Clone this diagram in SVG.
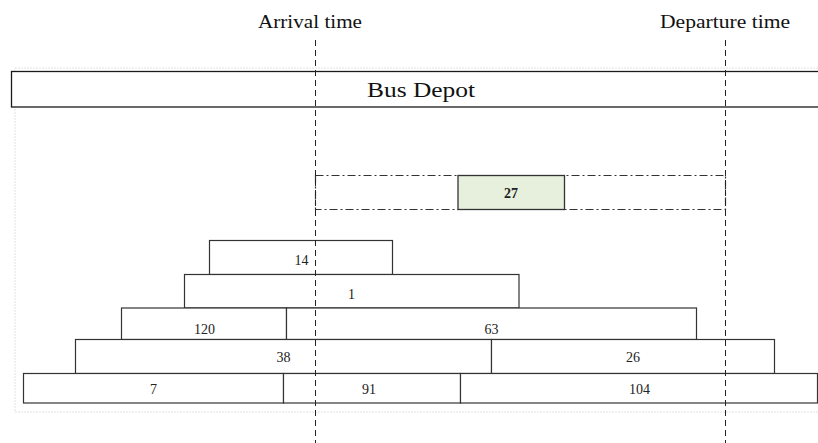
<svg xmlns="http://www.w3.org/2000/svg" width="818" height="443" viewBox="0 0 818 443">
  <style>
    .frame { fill: none; stroke: #e2e2e2; stroke-width: 1; stroke-dasharray: 2 1; }
    .depot { fill: #ffffff; stroke: #1a1a1a; stroke-width: 1.3; }
    .trip { fill: #ffffff; stroke: #333333; stroke-width: 1.2; }
    .hot { fill: #e6f0dc; stroke: #333333; stroke-width: 1.3; }
    .guide { fill: none; stroke: #222222; stroke-width: 1; stroke-dasharray: 6 4; }
    .window { fill: none; stroke: #333333; stroke-width: 1.2; stroke-dasharray: 8 3 2 3; }
    .title { font-family: "Liberation Serif", "DejaVu Serif", serif; font-size: 19px; fill: #111111; }
    .big { font-family: "Liberation Serif", "DejaVu Serif", serif; font-size: 22px; fill: #111111; }
    .num { font-family: "Liberation Serif", "DejaVu Serif", serif; font-size: 14px; fill: #222222; text-anchor: middle; }
    .bold { font-weight: bold; }
  </style>

  <!-- light page frame -->
  <rect class="frame" x="15" y="68" width="810" height="344"/>

  <g id="bus-depot">
    <rect class="depot" x="11.5" y="71.5" width="812" height="35.5"/>
    <text class="big" x="367" y="97" textLength="108" lengthAdjust="spacingAndGlyphs">Bus Depot</text>
  </g>

  <g id="trip-14">
    <rect class="trip" x="209.5" y="240.5" width="183" height="34"/>
    <text class="num" x="301.5" y="265">14</text>
  </g>
  <g id="trip-1">
    <rect class="trip" x="184.5" y="274.5" width="334.5" height="33.5"/>
    <text class="num" x="351.5" y="298.5">1</text>
  </g>
  <g id="trip-120">
    <rect class="trip" x="121.5" y="308" width="165" height="31.5"/>
    <text class="num" x="204.5" y="334">120</text>
  </g>
  <g id="trip-63">
    <rect class="trip" x="286.5" y="308" width="410" height="31.5"/>
    <text class="num" x="491.5" y="334">63</text>
  </g>
  <g id="trip-38">
    <rect class="trip" x="75.5" y="339.5" width="416" height="34"/>
    <text class="num" x="283.5" y="362">38</text>
  </g>
  <g id="trip-26">
    <rect class="trip" x="491.5" y="339.5" width="283" height="34"/>
    <text class="num" x="633" y="362">26</text>
  </g>
  <g id="trip-7">
    <rect class="trip" x="23.5" y="373.5" width="260" height="29.5"/>
    <text class="num" x="153.5" y="394">7</text>
  </g>
  <g id="trip-91">
    <rect class="trip" x="283.5" y="373.5" width="177" height="29.5"/>
    <text class="num" x="369" y="394">91</text>
  </g>
  <g id="trip-104">
    <rect class="trip" x="460.5" y="373.5" width="357" height="29.5"/>
    <text class="num" x="639.5" y="394">104</text>
  </g>

  <g id="trip-27">
    <rect class="hot" x="458" y="175.5" width="106.5" height="34"/>
    <text class="num bold" x="511" y="197.5">27</text>
  </g>

  <g id="connectors">
    <!-- time window between arrival and departure -->
    <rect class="window" x="315.5" y="175.5" width="410" height="34"/>
    <!-- arrival / departure guides -->
    <line class="guide" x1="315.5" y1="40" x2="315.5" y2="443"/>
    <line class="guide" x1="725.5" y1="40" x2="725.5" y2="443"/>
  </g>

  <g id="labels">
    <text class="title" x="258" y="28" textLength="104" lengthAdjust="spacingAndGlyphs">Arrival time</text>
    <text class="title" x="660" y="28" textLength="130" lengthAdjust="spacingAndGlyphs">Departure time</text>
  </g>
</svg>
